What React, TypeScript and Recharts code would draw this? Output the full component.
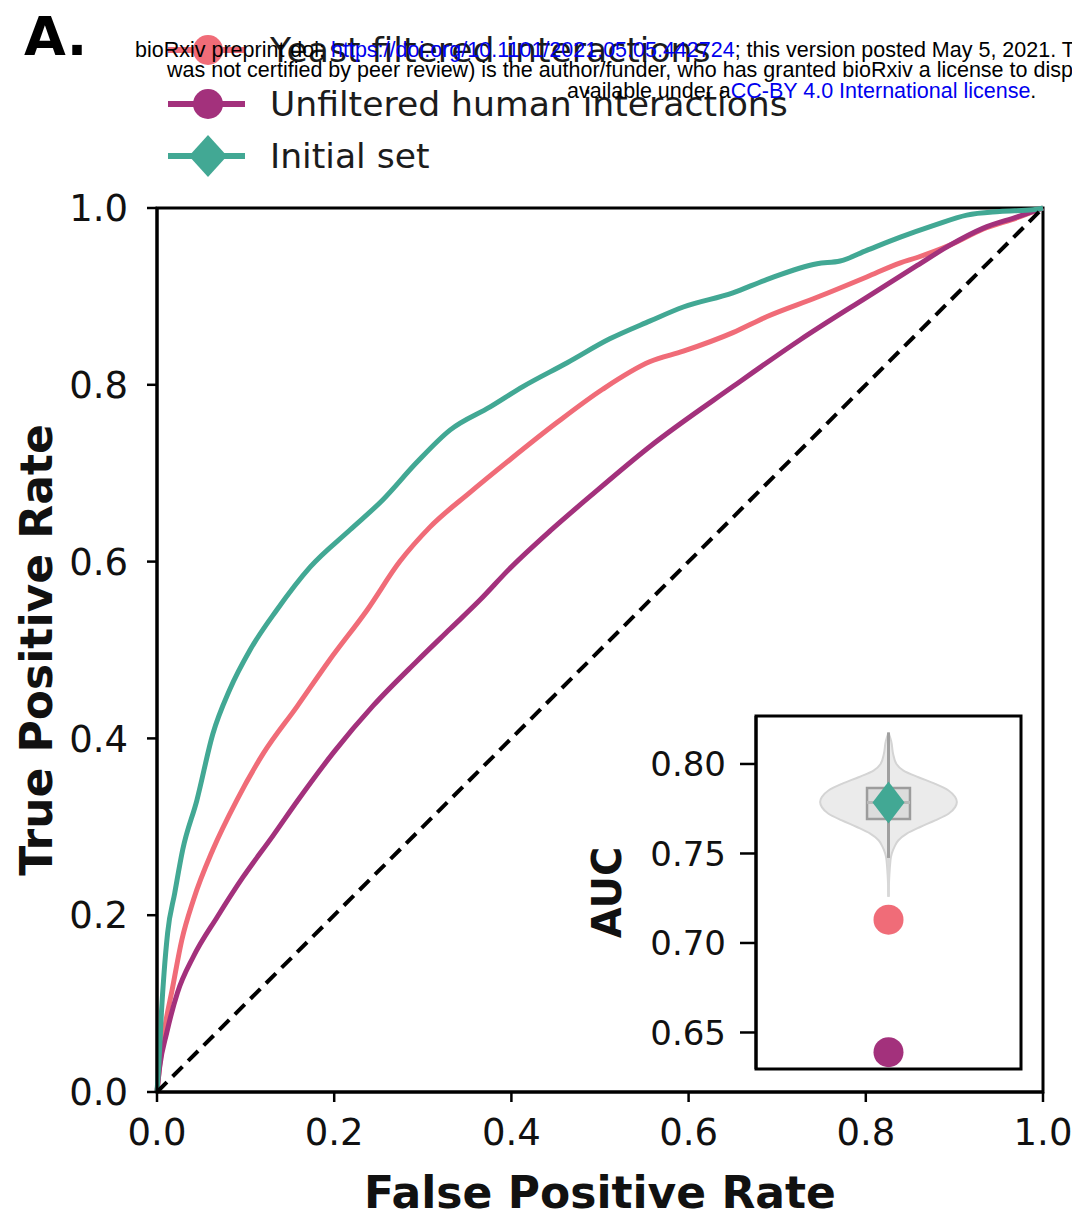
import {
  ComposedChart,
  LineChart,
  Line,
  Area,
  Scatter,
  XAxis,
  YAxis,
  ReferenceArea,
  ReferenceLine,
} from "recharts";

// ROC curves, [false positive rate, true positive rate]
const yeastFilteredRoc: [number, number][] = [
  [0, 0], [0.003, 0.03], [0.009, 0.074], [0.017, 0.115], [0.028, 0.172],
  [0.041, 0.217], [0.063, 0.274], [0.09, 0.33], [0.12, 0.383], [0.158, 0.436],
  [0.195, 0.489], [0.237, 0.545], [0.274, 0.6], [0.308, 0.639], [0.353, 0.678],
  [0.398, 0.715], [0.451, 0.757], [0.503, 0.795], [0.556, 0.826], [0.594, 0.838],
  [0.65, 0.859], [0.688, 0.877], [0.745, 0.899], [0.801, 0.922], [0.839, 0.938],
  [0.858, 0.944], [0.895, 0.958], [0.932, 0.976], [0.971, 0.989], [1, 1],
];

const unfilteredHumanRoc: [number, number][] = [
  [0, 0], [0.003, 0.028], [0.011, 0.067], [0.023, 0.112], [0.041, 0.153],
  [0.068, 0.198], [0.097, 0.243], [0.131, 0.29], [0.159, 0.33], [0.2, 0.385],
  [0.244, 0.437], [0.293, 0.487], [0.331, 0.524], [0.365, 0.557], [0.398, 0.592],
  [0.444, 0.635], [0.489, 0.674], [0.556, 0.73], [0.65, 0.798], [0.726, 0.851],
  [0.801, 0.899], [0.858, 0.935], [0.895, 0.958], [0.932, 0.977], [0.971, 0.99],
  [1, 1],
];

const initialSetRoc: [number, number][] = [
  [0, 0], [0.002, 0.03], [0.005, 0.09], [0.008, 0.135], [0.012, 0.18],
  [0.02, 0.225], [0.029, 0.274], [0.045, 0.33], [0.063, 0.405], [0.082, 0.455],
  [0.105, 0.5], [0.135, 0.545], [0.173, 0.594], [0.218, 0.636], [0.255, 0.67],
  [0.293, 0.712], [0.331, 0.749], [0.376, 0.775], [0.413, 0.798], [0.463, 0.825],
  [0.511, 0.852], [0.556, 0.872], [0.594, 0.888], [0.65, 0.904], [0.688, 0.919],
  [0.745, 0.937], [0.771, 0.94], [0.801, 0.952], [0.839, 0.967], [0.876, 0.98],
  [0.914, 0.992], [0.951, 0.996], [0.989, 0.998], [1, 1],
];

const chanceRoc: [number, number][] = [[0, 0], [1, 1]];

const rateTicks = [0, 0.2, 0.4, 0.6, 0.8, 1];

// inset: AUC of the initial set (violin) and single values
const aucTicks = [0.65, 0.7, 0.75, 0.8];
const aucDomain: [number, number] = [0.6296, 0.8268];
const violinAuc = [
  0.8176, 0.8129, 0.8056, 0.8, 0.7963, 0.7926, 0.7889, 0.7852, 0.7815, 0.7787,
  0.7759, 0.7722, 0.7685, 0.7648, 0.7611, 0.7574, 0.7537, 0.75, 0.7463, 0.7259,
];
const violinDensity = [
  0, 0.02, 0.035, 0.06, 0.113, 0.226, 0.352, 0.453, 0.503, 0.516,
  0.503, 0.453, 0.352, 0.239, 0.138, 0.075, 0.045, 0.025, 0.015, 0,
];
const boxQuartiles: [number, number] = [0.7693, 0.7866];
const boxMedian = 0.7785;
const whisker: [number, number] = [0.7475, 0.8176];
const whiskerTail = 0.7259;
const initialSetAuc = 0.7785;
const yeastFilteredAuc = 0.713;
const unfilteredHumanAuc = 0.639;

const PINK = "#f06c78";
const PURPLE = "#a3317c";
const TEAL = "#42a894";
const FONT = "'DejaVu Sans', sans-serif";

const toPoints = (rows: [number, number][]) =>
  rows.map(([fpr, tpr]) => ({ fpr, tpr }));

const violinData = violinAuc.map((auc, i) => ({ auc, w: violinDensity[i] }));

const Diamond = (props: any) => {
  const { cx, cy } = props;
  return (
    <path
      d={`M${cx},${cy - 21} L${cx + 16},${cy} L${cx},${cy + 21} L${cx - 16},${cy} Z`}
      fill={TEAL}
    />
  );
};

const dotShape = (color: string) => (props: any) =>
  <circle cx={props.cx} cy={props.cy} r={15} fill={color} />;

function LegendMarker({ color, kind }: { color: string; kind: string }) {
  return (
    <svg width={90} height={50} style={{ display: "block" }}>
      <line x1={8} y1={25} x2={85} y2={25} stroke={color} strokeWidth={6} />
      {kind === "circle" ? (
        <circle cx={48} cy={25} r={15} fill={color} />
      ) : (
        <path d="M48,4 L67,25 L48,46 L29,25 Z" fill={color} />
      )}
    </svg>
  );
}

const legendRows = [
  { label: "Yeast filtered interactions", color: PINK, kind: "circle", y: 50 },
  { label: "Unfiltered human interactions", color: PURPLE, kind: "circle", y: 104 },
  { label: "Initial set", color: TEAL, kind: "diamond", y: 156 },
];

const tickStyle = { fontSize: 37, fill: "#111", fontFamily: FONT };
const axisLabelStyle = {
  fontSize: 44,
  fontWeight: "bold",
  fill: "#111",
  fontFamily: FONT,
  textAnchor: "middle",
};

export default function App() {
  return (
    <div
      style={{
        position: "absolute",
        left: 0,
        top: 0,
        width: 1072,
        height: 1214,
        background: "#fff",
        overflow: "hidden",
        fontFamily: FONT,
      }}
    >
      <LineChart
        width={1072}
        height={1214}
        margin={{ top: 208, right: 29, left: 17, bottom: 0 }}
      >
        <XAxis
          type="number"
          dataKey="fpr"
          domain={[0, 1]}
          ticks={rateTicks}
          interval={0}
          tickFormatter={(v: number) => v.toFixed(1)}
          height={122}
          tickSize={10}
          tickMargin={17}
          tick={tickStyle}
          axisLine={{ stroke: "#000", strokeWidth: 3 }}
          tickLine={{ stroke: "#000", strokeWidth: 2.5 }}
          label={{
            value: "False Positive Rate",
            position: "insideBottom",
            offset: 6,
            style: axisLabelStyle,
          }}
        />
        <YAxis
          type="number"
          domain={[0, 1]}
          ticks={rateTicks}
          interval={0}
          tickFormatter={(v: number) => v.toFixed(1)}
          width={140}
          tickSize={10}
          tickMargin={19}
          tick={tickStyle}
          axisLine={{ stroke: "#000", strokeWidth: 3 }}
          tickLine={{ stroke: "#000", strokeWidth: 2.5 }}
          label={{
            value: "True Positive Rate",
            angle: -90,
            position: "insideLeft",
            offset: 19,
            style: axisLabelStyle,
          }}
        />
        <Line
          data={toPoints(yeastFilteredRoc)}
          dataKey="tpr"
          type="monotone"
          stroke={PINK}
          strokeWidth={5}
          dot={false}
          isAnimationActive={false}
        />
        <Line
          data={toPoints(unfilteredHumanRoc)}
          dataKey="tpr"
          type="monotone"
          stroke={PURPLE}
          strokeWidth={5}
          dot={false}
          isAnimationActive={false}
        />
        <Line
          data={toPoints(initialSetRoc)}
          dataKey="tpr"
          type="monotone"
          stroke={TEAL}
          strokeWidth={5}
          dot={false}
          isAnimationActive={false}
        />
        <Line
          data={toPoints(chanceRoc)}
          dataKey="tpr"
          type="linear"
          stroke="#000"
          strokeWidth={4}
          strokeDasharray="14 8"
          dot={false}
          isAnimationActive={false}
        />
        <ReferenceArea
          x1={0}
          x2={1}
          y1={0}
          y2={1}
          fill="none"
          stroke="#000"
          strokeWidth={3}
        />
      </LineChart>

      {legendRows.map((row) => (
        <div
          key={row.label}
          style={{
            position: "absolute",
            left: 160,
            top: row.y - 25,
            height: 50,
            display: "flex",
            alignItems: "center",
            whiteSpace: "nowrap",
          }}
        >
          <LegendMarker color={row.color} kind={row.kind} />
          <span
            style={{
              marginLeft: 20,
              fontSize: 34.6,
              lineHeight: 1,
              color: "#1c1c1c",
            }}
          >
            {row.label}
          </span>
        </div>
      ))}

      <div
        style={{
          position: "absolute",
          left: 24,
          top: 10,
          fontSize: 54,
          lineHeight: 1,
          fontWeight: "bold",
          color: "#000",
        }}
      >
        A.
      </div>

      <div
        style={{
          position: "absolute",
          left: 560,
          top: 690,
          width: 480,
          height: 400,
        }}
      >
        <ComposedChart
          layout="vertical"
          width={480}
          height={400}
          margin={{ top: 26, right: 19, bottom: 21, left: 0 }}
        >
          <rect x={196} y={26} width={265} height={353} fill="#fff" />
          <XAxis type="number" dataKey="x" domain={[-1, 1]} hide />
          <YAxis
            type="number"
            dataKey="auc"
            domain={aucDomain}
            ticks={aucTicks}
            interval={0}
            reversed
            allowDataOverflow
            tickFormatter={(v: number) => v.toFixed(2)}
            width={196}
            tickSize={16}
            tickMargin={14}
            tick={{ fontSize: 34, fill: "#111", fontFamily: FONT }}
            axisLine={{ stroke: "#000", strokeWidth: 3 }}
            tickLine={{ stroke: "#000", strokeWidth: 2.5 }}
            label={{
              value: "AUC",
              angle: -90,
              position: "insideLeft",
              offset: 47,
              style: { ...axisLabelStyle, fontSize: 40 },
            }}
          />
          <ReferenceLine
            segment={[
              { x: 0, y: whisker[0] },
              { x: 0, y: whiskerTail },
            ]}
            stroke="#d8d8d8"
            strokeWidth={2.5}
          />
          <Area
            data={violinData}
            dataKey={(d: any) => [-d.w, d.w]}
            type="monotone"
            fill="#ebebeb"
            fillOpacity={1}
            stroke="#d4d4d4"
            strokeWidth={2}
            isAnimationActive={false}
          />
          <ReferenceLine
            segment={[
              { x: 0, y: whisker[0] },
              { x: 0, y: whisker[1] },
            ]}
            stroke="#a0a0a0"
            strokeWidth={3}
          />
          <ReferenceArea
            x1={-0.162}
            x2={0.162}
            y1={boxQuartiles[0]}
            y2={boxQuartiles[1]}
            fill="#dcdcdc"
            fillOpacity={1}
            stroke="#9c9c9c"
            strokeWidth={2.5}
          />
          <ReferenceLine
            segment={[
              { x: -0.162, y: boxMedian },
              { x: 0.162, y: boxMedian },
            ]}
            stroke="#b8b8b8"
            strokeWidth={3}
          />
          <Scatter
            data={[{ x: 0, auc: initialSetAuc }]}
            shape={Diamond}
            isAnimationActive={false}
          />
          <Scatter
            data={[{ x: 0, auc: yeastFilteredAuc }]}
            shape={dotShape(PINK)}
            isAnimationActive={false}
          />
          <Scatter
            data={[{ x: 0, auc: unfilteredHumanAuc }]}
            shape={dotShape(PURPLE)}
            isAnimationActive={false}
          />
          <ReferenceArea
            x1={-1}
            x2={1}
            y1={aucDomain[0]}
            y2={aucDomain[1]}
            fill="none"
            stroke="#000"
            strokeWidth={3}
          />
        </ComposedChart>
      </div>

      <div
        style={{
          position: "absolute",
          left: 0,
          top: 0,
          width: 1072,
          fontFamily: "'Liberation Sans', Arial, sans-serif",
          fontSize: 21.5,
          lineHeight: "21px",
          color: "#000",
          whiteSpace: "nowrap",
        }}
      >
        <div style={{ position: "absolute", left: 135, top: 40 }}>
          bioRxiv preprint doi:{" "}
          <span style={{ color: "#0000ee" }}>
            https://doi.org/10.1101/2021.05.05.442724
          </span>
          ; this version posted May 5, 2021. The copyright holder for this preprint
          (which
        </div>
        <div style={{ position: "absolute", left: 167, top: 60 }}>
          was not certified by peer review) is the author/funder, who has granted
          bioRxiv a license to display the preprint in perpetuity. It is made
        </div>
        <div style={{ position: "absolute", left: 567, top: 81 }}>
          available under a
          <span style={{ color: "#0000ee" }}>CC-BY 4.0 International license</span>.
        </div>
      </div>
    </div>
  );
}
